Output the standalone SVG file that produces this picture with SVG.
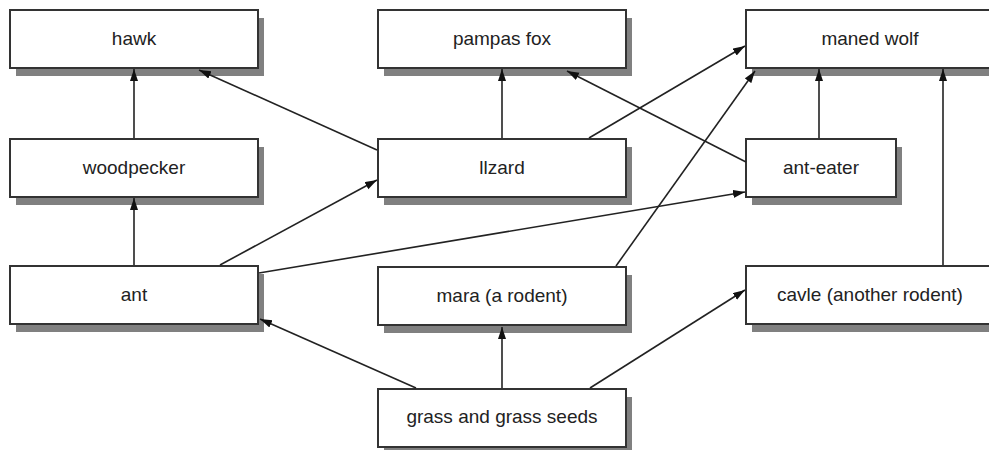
<svg xmlns="http://www.w3.org/2000/svg" width="989" height="450" viewBox="0 0 989 450">
<style>
.shadow{fill:#808080;}
.box{fill:#fff;stroke:#333;stroke-width:2;}
.lbl{font-family:"Liberation Sans",Arial,sans-serif;font-size:19px;fill:#222;text-anchor:middle;}
.edge{stroke:#222;stroke-width:1.6;fill:none;marker-end:url(#arr);}
</style>
<defs>
<marker id="arr" markerUnits="userSpaceOnUse" markerWidth="13" markerHeight="9" refX="12" refY="4" orient="auto">
<path d="M0,0 L12,4 L0,8 z" fill="#111"/>
</marker>
</defs>
<rect width="989" height="450" fill="#fff"/>
<g id="hawk"><rect class="shadow" x="16" y="18" width="248" height="58"/><rect class="box" x="10" y="10" width="248" height="58"/><text class="lbl" x="134" y="45">hawk</text></g>
<g id="woodpecker"><rect class="shadow" x="16" y="147" width="248" height="58"/><rect class="box" x="10" y="139" width="248" height="58"/><text class="lbl" x="134" y="174">woodpecker</text></g>
<g id="ant"><rect class="shadow" x="16" y="274" width="248" height="58"/><rect class="box" x="10" y="266" width="248" height="58"/><text class="lbl" x="134" y="301">ant</text></g>
<g id="pampas-fox"><rect class="shadow" x="384" y="18" width="248" height="58"/><rect class="box" x="378" y="10" width="248" height="58"/><text class="lbl" x="502" y="45">pampas fox</text></g>
<g id="lizard"><rect class="shadow" x="384" y="147" width="248" height="58"/><rect class="box" x="378" y="139" width="248" height="58"/><text class="lbl" x="502" y="174">llzard</text></g>
<g id="mara"><rect class="shadow" x="384" y="275" width="248" height="58"/><rect class="box" x="378" y="267" width="248" height="58"/><text class="lbl" x="502" y="302">mara (a rodent)</text></g>
<g id="grass"><rect class="shadow" x="384" y="397" width="248" height="58"/><rect class="box" x="378" y="389" width="248" height="58"/><text class="lbl" x="502" y="423">grass and grass seeds</text></g>
<g id="maned-wolf"><rect class="shadow" x="752" y="18" width="248" height="58"/><rect class="box" x="746" y="10" width="248" height="58"/><text class="lbl" x="870" y="45">maned wolf</text></g>
<g id="ant-eater"><rect class="shadow" x="752" y="147" width="150" height="58"/><rect class="box" x="746" y="139" width="150" height="58"/><text class="lbl" x="821" y="174">ant-eater</text></g>
<g id="cavle"><rect class="shadow" x="752" y="274" width="248" height="58"/><rect class="box" x="746" y="266" width="248" height="58"/><text class="lbl" x="870" y="301">cavle (another rodent)</text></g>
<g id="connectors">
<line class="edge" x1="134" y1="138" x2="134" y2="69"/>
<line class="edge" x1="134" y1="265" x2="134" y2="198"/>
<line class="edge" x1="377" y1="150" x2="199" y2="70"/>
<line class="edge" x1="502" y1="138" x2="502" y2="69"/>
<line class="edge" x1="589" y1="138" x2="745" y2="46"/>
<line class="edge" x1="746" y1="162" x2="567" y2="71"/>
<line class="edge" x1="616" y1="266" x2="755" y2="71"/>
<line class="edge" x1="819" y1="138" x2="819" y2="69"/>
<line class="edge" x1="943" y1="265" x2="943" y2="69"/>
<line class="edge" x1="220" y1="265" x2="377" y2="180"/>
<line class="edge" x1="259" y1="273" x2="745" y2="192"/>
<line class="edge" x1="416" y1="388" x2="260" y2="319"/>
<line class="edge" x1="502" y1="388" x2="502" y2="327"/>
<line class="edge" x1="590" y1="388" x2="745" y2="290"/>
</g>
</svg>
